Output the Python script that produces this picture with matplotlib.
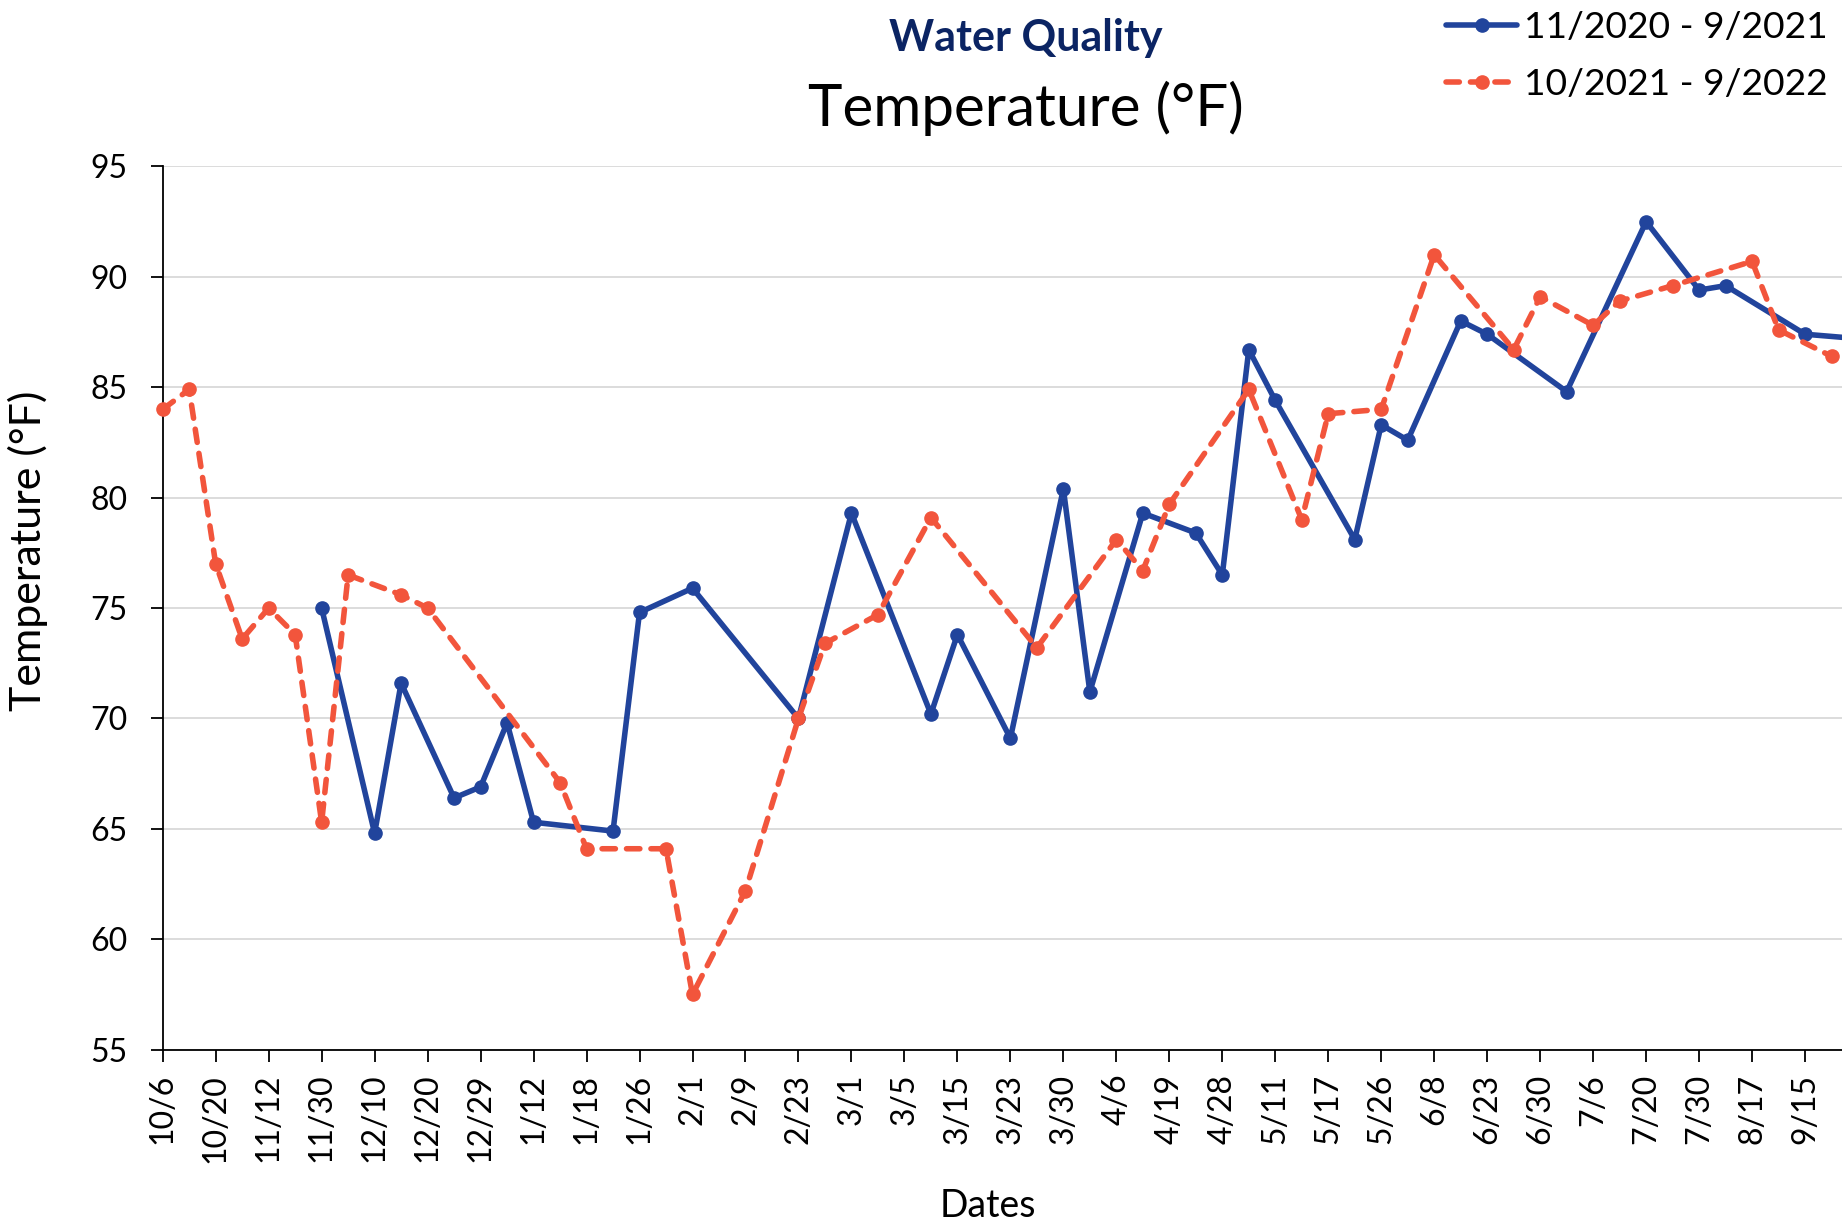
import numpy as np
import matplotlib
matplotlib.use('Agg')
import matplotlib.pyplot as plt

plt.rcParams['font.family'] = ['Lato', 'DejaVu Sans']

# sampling dates (one every two categories is labelled on the axis)
date_labels = ['10/6', '10/20', '11/12', '11/30', '12/10', '12/20', '12/29', '1/12',
               '1/18', '1/26', '2/1', '2/9', '2/23', '3/1', '3/5', '3/15', '3/23',
               '3/30', '4/6', '4/19', '4/28', '5/11', '5/17', '5/26', '6/8', '6/23',
               '6/30', '7/6', '7/20', '7/30', '8/17', '9/15']

# temperature readings per category (None = no sample that day)
temp_2020_2021 = [None, None, None, None, None, None, 75.0, None, 64.8, 71.6,
                  None, 66.4, 66.9, 69.8, 65.3, None, None, 64.9, 74.8, None,
                  75.9, None, None, None, 70.0, None, 79.3, None, None, 70.2,
                  73.8, None, 69.1, None, 80.4, 71.2, None, 79.3, None, 78.4,
                  76.5, 86.7, 84.4, None, None, 78.1, 83.3, 82.6, None, 88.0,
                  87.4, None, None, 84.8, None, None, 92.5, None, 89.4, 89.6,
                  None, None, 87.4, None, 87.2]

temp_2021_2022 = [84.0, 84.9, 77.0, 73.6, 75.0, 73.8, 65.3, 76.5, None, 75.6,
                  75.0, None, None, None, None, 67.1, 64.1, None, None, 64.1,
                  57.5, None, 62.2, None, 70.0, 73.4, None, 74.7, None, 79.1,
                  None, None, None, 73.2, None, None, 78.1, 76.7, 79.7, None,
                  None, 84.9, None, 79.0, 83.8, None, 84.0, None, 91.0, None,
                  None, 86.7, 89.1, None, 87.8, 88.9, None, 89.6, None, None,
                  90.7, 87.6, None, 86.4, None]

series_names = ['11/2020 - 9/2021', '10/2021 - 9/2022']
blue = '#21449C'
red = '#F2553C'

W, H = 1842, 1227
fig = plt.figure(figsize=(W / 100, H / 100), dpi=100)
ax = fig.add_axes([162.7 / W, 177.3 / H, (W - 162.7) / W, 883.3 / H])

def plot_series(vals, **kw):
    y = np.array([np.nan if v is None else v for v in vals], dtype=float)
    x = np.arange(len(y))
    ok = ~np.isnan(y)
    ax.plot(x[ok], y[ok], clip_on=False, zorder=3, **kw)

plot_series(temp_2020_2021, color=blue, lw=4, marker='o', ms=9.5,
            solid_capstyle='round', label=series_names[0])
plot_series(temp_2021_2022, color=red, lw=4, marker='o', ms=9.5,
            linestyle=(0, (2.4, 2.0)), dash_capstyle='round', label=series_names[1])

ax.set_xlim(0, (W - 162.7) / 26.49)
ax.set_ylim(55, 95)
ax.set_yticks(np.arange(55, 96, 5))
ax.set_xticks(np.arange(0, 2 * len(date_labels), 2))
ax.set_xticklabels(date_labels, rotation=90)

ax.grid(axis='y', color='#d9d9d9', lw=1.3)
ax.set_axisbelow(True)
for s in ['top', 'right']:
    ax.spines[s].set_visible(False)
for s in ['left', 'bottom']:
    ax.spines[s].set_linewidth(1.3)
ax.tick_params(axis='y', length=8.4, width=1.3, pad=17, labelsize=23)
ax.tick_params(axis='x', length=8.4, width=1.3, pad=9, labelsize=23)

fig.text(1025.5 / W, 1 - 50.5 / H, 'Water Quality', ha='center', va='baseline',
         fontsize=31, fontweight='bold', color='#0B2463')
fig.text(1025.5 / W, 1 - 125.7 / H, 'Temperature (°F)', ha='center', va='baseline',
         fontsize=42)
fig.text(28 / W, 1 - 551 / H, 'Temperature (°F)', ha='center', va='center',
         rotation=90, fontsize=31)
fig.text(988 / W, 1 - 1206 / H, 'Dates', ha='center', va='center', fontsize=27)

fig.legend(loc='upper right', bbox_to_anchor=(1828 / W, 1 - 11.5 / H), frameon=False,
           fontsize=26.8, borderpad=0, borderaxespad=0, handlelength=1.9,
           handletextpad=0.2, labelspacing=0.62)

fig.savefig('out.png', dpi=100)
